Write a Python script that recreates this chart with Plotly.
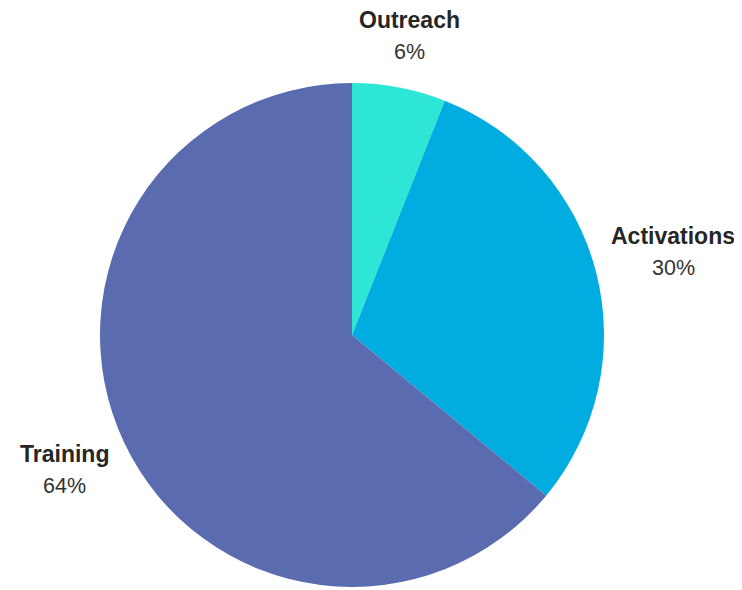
import math
import plotly.graph_objects as go

labels = ["Outreach", "Activations", "Training"]
values = [6, 30, 64]
colors = ["#2EE6D6", "#00ACE0", "#5A6BB0"]

W, H = 742, 590
ml, mt, pw, ph = 92, 75, 504, 504
mr, mb = W - ml - pw, H - mt - ph
R = pw / 2.0

fig = go.Figure(go.Pie(
    labels=labels, values=values, sort=False, direction="clockwise", rotation=0,
    marker=dict(colors=colors, line=dict(width=0)),
    textinfo="none", hoverinfo="label+percent", showlegend=False,
))

total = sum(values)
cum = 0
annotations = []
for lab, v in zip(labels, values):
    mid = (cum + v / 2.0) / total * 2 * math.pi
    cum += v
    s, c = math.sin(mid), math.cos(mid)
    hw = 11.8 * len(lab) / 2.0
    hh = 36
    r = R + 8 + abs(s) * hw + abs(c) * hh
    dx, dy = r * s, r * c
    px = 0.5 + dx / pw
    py = 0.5 + dy / ph
    annotations.append(dict(
        x=px, y=py + 16 / ph, xref="paper", yref="paper", showarrow=False,
        text="<b>%s</b>" % lab, xanchor="center", yanchor="middle",
        font=dict(family="Liberation Sans, Arial, sans-serif", size=23, color="#262626")))
    annotations.append(dict(
        x=px, y=py - 16 / ph, xref="paper", yref="paper", showarrow=False,
        text="%d%%" % round(v / total * 100), xanchor="center", yanchor="middle",
        font=dict(family="Liberation Sans, Arial, sans-serif", size=21.5, color="#333333")))

fig.update_layout(
    width=W, height=H,
    margin=dict(l=ml, r=mr, t=mt, b=mb),
    paper_bgcolor="white", plot_bgcolor="white",
    annotations=annotations,
)

fig.write_html("out.html")
